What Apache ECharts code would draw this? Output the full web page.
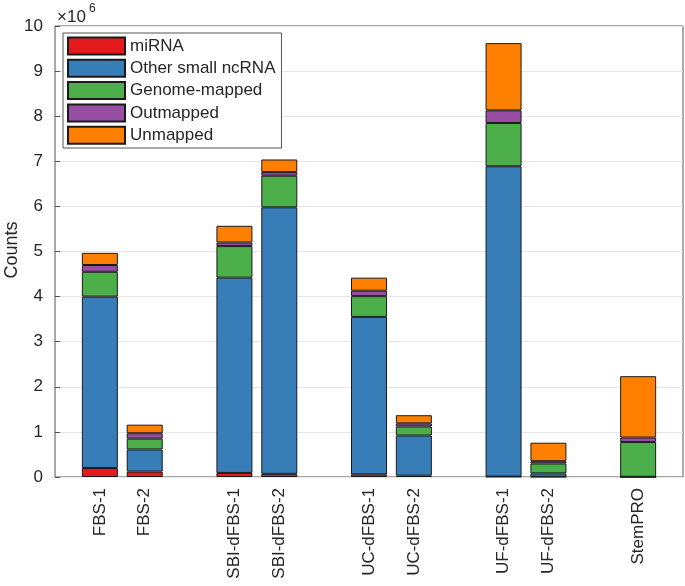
<!DOCTYPE html>
<html>
<head>
<meta charset="utf-8">
<script src="https://cdn.jsdelivr.net/npm/echarts@6/dist/echarts.min.js"></script>
<style>html,body{margin:0;padding:0;background:#fff;}#c{width:685px;height:586px;}</style>
</head>
<body>
<div id="c"></div>
<script>
// categories ('' = spacing slot between groups)
const categories = ['', 'FBS-1', 'FBS-2', '', 'SBI-dFBS-1', 'SBI-dFBS-2', '', 'UC-dFBS-1', 'UC-dFBS-2', '', 'UF-dFBS-1', 'UF-dFBS-2', '', 'StemPRO', ''];
const seriesNames = ['miRNA', 'Other small ncRNA', 'Genome-mapped', 'Outmapped', 'Unmapped'];
// values (counts), null for spacing slots
const miRNA      = [null, 200000, 120000, null, 90000, 70000, null, 60000, 30000, null, 10000, 5000, null, 0, null];
const otherSmall = [null, 3800000, 490000, null, 4330000, 5910000, null, 3490000, 890000, null, 6880000, 75000, null, 5000, null];
const genome     = [null, 550000, 240000, null, 700000, 700000, null, 460000, 200000, null, 960000, 220000, null, 770000, null];
const outmapped  = [null, 150000, 120000, null, 80000, 80000, null, 120000, 70000, null, 280000, 50000, null, 100000, null];
const unmapped   = [null, 270000, 190000, null, 370000, 280000, null, 290000, 180000, null, 1490000, 410000, null, 1360000, null];
const yTicks = [0,1,2,3,4,5,6,7,8,9,10];
const yAxisTitle = 'Counts';

const colors = ['#E41A1C', '#377EB8', '#4DAF4A', '#984EA3', '#FF7F00'];
const allData = [miRNA, otherSmall, genome, outmapped, unmapped];
const font = 'Liberation Sans, Arial, Helvetica, sans-serif';
const txt = '#262626';

const chart = echarts.init(document.getElementById('c'), null, {renderer: 'canvas'});
chart.setOption({
  animation: false,
  backgroundColor: '#fff',
  textStyle: {fontFamily: font},
  grid: {left: 55, right: 2, top: 26, bottom: 109, show: true, borderColor: '#555', borderWidth: 1, backgroundColor: 'transparent', containLabel: false, outerBoundsMode: 'none'},
  legend: {
    orient: 'vertical', left: 63, top: 33,
    itemWidth: 57, itemHeight: 17, itemGap: 3.3,
    padding: [3.5, 6, 3.3, 4],
    backgroundColor: '#fff', borderColor: '#555', borderWidth: 1, borderRadius: 0,
    textStyle: {fontSize: 17, color: txt, fontFamily: font},
    icon: 'rect',
    data: seriesNames
  },
  xAxis: {
    type: 'category', data: categories, boundaryGap: false,
    axisLine: {show: false}, axisTick: {show: false},
    axisLabel: {rotate: 90, fontSize: 17, color: txt, margin: 11, interval: 0, fontFamily: font},
    splitLine: {show: false}
  },
  yAxis: {
    type: 'value', min: 0, max: 10000000, interval: 1000000,
    axisLine: {show: false},
    axisTick: {show: true, inside: true, length: 5, lineStyle: {color: '#555'}},
    axisLabel: {fontSize: 17, color: txt, margin: 12, fontFamily: font, formatter: v => String(Math.round(v / 1e6))},
    splitLine: {show: true, lineStyle: {color: '#e6e6e6', width: 1}}
  },
  graphic: [
    {type: 'text', left: 57, top: 9, style: {text: '×10', fontSize: 17, fill: txt, fontFamily: font}},
    {type: 'text', left: 89, top: 3, style: {text: '6', fontSize: 12, fill: txt, fontFamily: font}},
    {type: 'text', x: 12, y: 250, rotation: Math.PI / 2,
     style: {text: yAxisTitle, fontSize: 18, fill: txt, fontFamily: font, align: 'center', verticalAlign: 'middle'}}
  ],
  series: seriesNames.map((n, i) => ({
    name: n, type: 'bar', stack: 'total', barWidth: 36,
    data: allData[i],
    itemStyle: {color: colors[i], borderColor: '#1a1a1a', borderWidth: 1},
    emphasis: {disabled: true}
  }))
});
</script>
</body>
</html>
